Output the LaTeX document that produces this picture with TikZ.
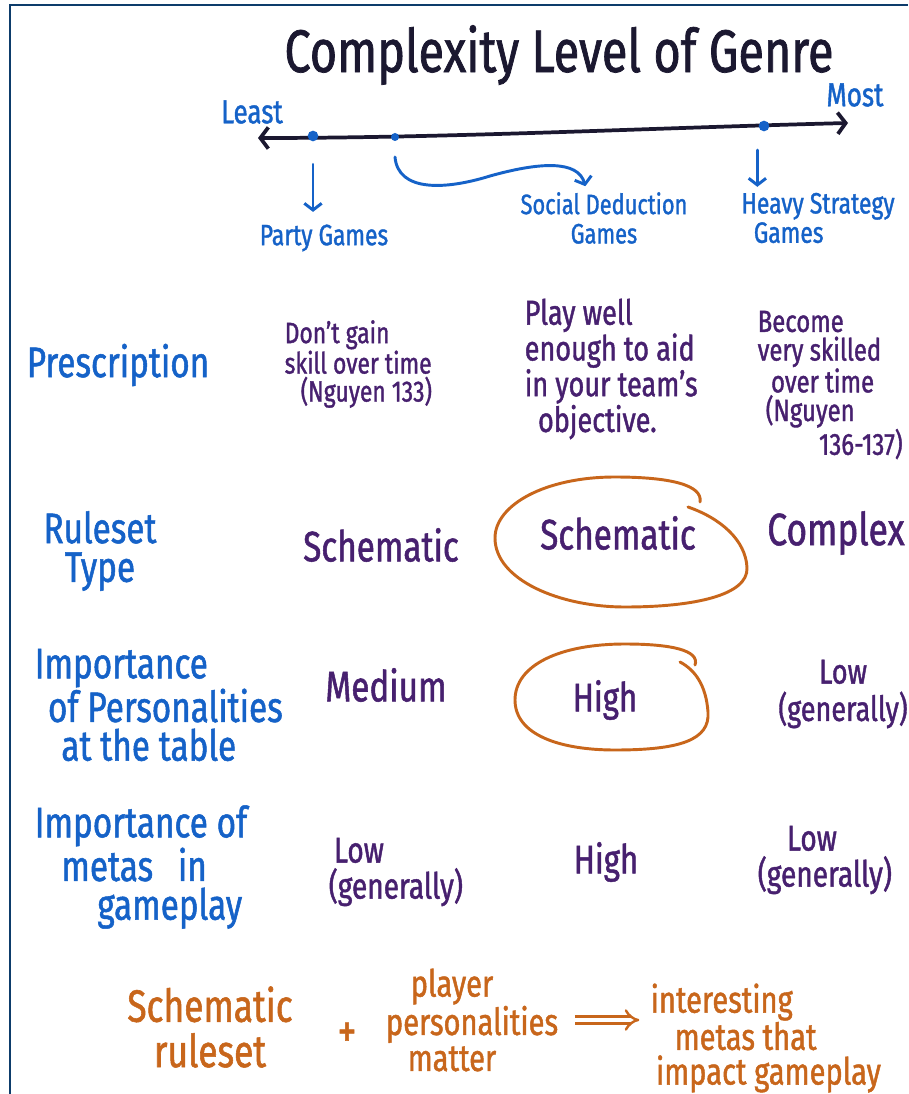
\documentclass[tikz,border=0pt]{standalone}
\usepackage{fontspec}
\setmainfont{Fira Sans}[FakeStretch=0.78, FakeBold=1.2]
\usepackage{tikz}
\usetikzlibrary{arrows.meta}
\definecolor{framecol}{HTML}{0D3C6B}
\definecolor{inkcol}{HTML}{1B1830}
\definecolor{bluecol}{HTML}{1562C8}
\definecolor{purplecol}{HTML}{47206F}
\definecolor{orangecol}{HTML}{C8661B}
\tikzset{
    heading/.style={text=inkcol, font=\fontsize{45}{46}\selectfont},
    genre/.style={text=bluecol, align=center, font=\fontsize{22}{22}\selectfont},
    rowlabel/.style={text=bluecol, align=left, font=\fontsize{32}{29}\selectfont},
    cell/.style={text=purplecol, align=left, font=\fontsize{24}{22}\selectfont},
    bigcell/.style={text=purplecol, font=\fontsize{32}{32}\selectfont},
    summary/.style={text=orangecol, align=left, font=\fontsize{30}{28}\selectfont},
    dot/.style={circle, fill=bluecol, inner sep=0pt, minimum size=8pt},
    scaleline/.style={inkcol, line width=2.8pt, line cap=round,
        {Straight Barb[length=6pt, width=16pt, line width=2.8pt]}-{Straight Barb[length=6pt, width=16pt, line width=2.8pt]}},
    pointer/.style={bluecol, line width=2.2pt, line cap=round,
        -{Straight Barb[length=5pt, width=13pt, line width=2.2pt]}},
    ring/.style={orangecol, line width=2.2pt, line cap=round},
    implies/.style={orangecol, line width=1.8pt, double distance=3.6pt, -{Implies}},
}
\begin{document}
\begin{tikzpicture}[x=0.75pt, y=-0.75pt]
        \useasboundingbox [fill=white] (0, 0) rectangle (908, 1094);
        % Frame
        \draw [framecol, line width=1.6pt] (10, 1094) -- (10, 5) -- (908, 5);
        % Title
        \node [heading] (title) at (559, 55) {Complexity Level of Genre};
        % Scale
        \coordinate (least end) at (258, 138);
        \coordinate (most end) at (848, 123);
        \draw [scaleline] (least end) .. controls (450, 138) and (650, 128) .. (most end);
        \node [genre, font=\fontsize{25}{25}\selectfont] (least) at (252, 112) {Least};
        \node [genre, font=\fontsize{25}{25}\selectfont] (most) at (855, 95) {Most};
        \node [dot] (party dot) at (313, 136) {};
        \node [dot, minimum size=6pt] (social dot) at (395, 137) {};
        \node [dot] (heavy dot) at (764, 126) {};
        % Genres
        \node [genre] (party) at (324, 238) {Party Games};
        \node [genre, font=\fontsize{21}{22}\selectfont] (social) at (604, 218) {Social Deduction\\Games};
        \node [genre] (heavy) at (818, 218) {Heavy Strategy\\Games\hspace*{44pt}};
        \draw [pointer, shorten <=17pt, shorten >=6pt] (party dot) -- (party dot |- party.north);
        \draw [pointer] ([yshift=-15pt]social dot.center) .. controls (398, 192) and (445, 190) .. (490, 176)
            .. controls (540, 162) and (578, 160) .. ([shift={(-14pt, 1pt)}]social.north);
        \draw [pointer, shorten <=18pt, shorten >=1pt] ([xshift=-5pt]heavy dot.center) -- ([xshift=-5pt]heavy dot |- heavy.north);
        % Row labels
        \node [rowlabel] (prescription) at (118, 365) {Prescription};
        \node [rowlabel, align=center] (ruleset) at (100, 551) {Ruleset\\Type};
        \node [rowlabel, anchor=west] (personalities) at (30, 705) {Importance\\\hspace*{10pt}of Personalities\\\hspace*{20pt}at the table};
        \node [rowlabel, anchor=west] (metas) at (30, 867) {Importance of\\\hspace*{20pt}metas\hspace*{12pt} in\\\hspace*{47pt}gameplay};
        % Prescription row
        \node [cell, anchor=west, font=\fontsize{22}{21}\selectfont] (no skill) at (280, 364)
            {Don't gain\\skill over time\\\hspace*{12pt}(Nguyen 133)};
        \node [cell, anchor=west, font=\fontsize{26}{22}\selectfont] (play well) at (520, 369)
            {Play well\\enough to aid\\in your team's\\\hspace*{10pt}objective.};
        \node [cell, anchor=west, font=\fontsize{23}{21.5}\selectfont] (skilled) at (753, 385)
            {Become\\very skilled\\\hspace*{10pt}over time\\\hspace*{6pt}(Nguyen\\\hspace*{46pt}136-137)};
        % Ruleset row
        \node [bigcell] (party rules) at (381, 545) {Schematic};
        \node [bigcell] (social rules) at (618, 533) {Schematic};
        \node [bigcell, font=\fontsize{34}{34}\selectfont] (heavy rules) at (836, 533) {Complex};
        \draw [ring] (700, 502) .. controls (703, 485) and (670, 477) .. (615, 477)
            .. controls (545, 477) and (495, 505) .. (495, 538)
            .. controls (495, 580) and (560, 607) .. (625, 607)
            .. controls (695, 607) and (748, 595) .. (747, 568)
            .. controls (746, 540) and (720, 518) .. (688, 507);
        % Personalities row
        \node [bigcell] (party pers) at (386, 685) {Medium};
        \node [bigcell, font=\fontsize{30}{30}\selectfont] (social pers) at (605, 700) {High};
        \node [cell, align=center, font=\fontsize{26}{28}\selectfont] (heavy pers) at (843, 694) {Low\\(generally)};
        \draw [ring] (695, 665) .. controls (700, 650) and (670, 644) .. (625, 644)
            .. controls (560, 644) and (515, 665) .. (515, 700)
            .. controls (515, 735) and (560, 750) .. (615, 750)
            .. controls (680, 750) and (710, 740) .. (708, 712)
            .. controls (706, 685) and (695, 670) .. (680, 662);
        % Metas row
        \node [cell, anchor=west, font=\fontsize{27}{27}\selectfont] (party metas) at (324, 872) {\hspace*{4pt}Low\\(generally)};
        \node [bigcell, font=\fontsize{30}{30}\selectfont] (social metas) at (606, 862) {High};
        \node [cell, anchor=west, font=\fontsize{27}{27}\selectfont] (heavy metas) at (753, 860) {\hspace*{22pt}Low\\(generally)};
        % Conclusion
        \node [summary, align=center, font=\fontsize{34}{34}\selectfont] (schematic) at (210, 1027) {Schematic\\ruleset};
        \node [summary, font=\fontsize{36}{36}\selectfont] (plus) at (347, 1035) {+};
        \node [summary, align=center, font=\fontsize{28}{27}\selectfont] (player) at (472, 1020) {\hspace*{-30pt}player\\personalities\\\hspace*{-30pt}matter};
        \node [summary, anchor=west, font=\fontsize{28}{26}\selectfont] (interesting) at (646, 1038) {interesting\\\hspace*{18pt}metas that\\\hspace*{4pt}impact gameplay};
        \draw [implies, shorten <=9pt, shorten >=5pt] (player.east) -- (player.east -| interesting.west);
    \end{tikzpicture}
\end{document}
